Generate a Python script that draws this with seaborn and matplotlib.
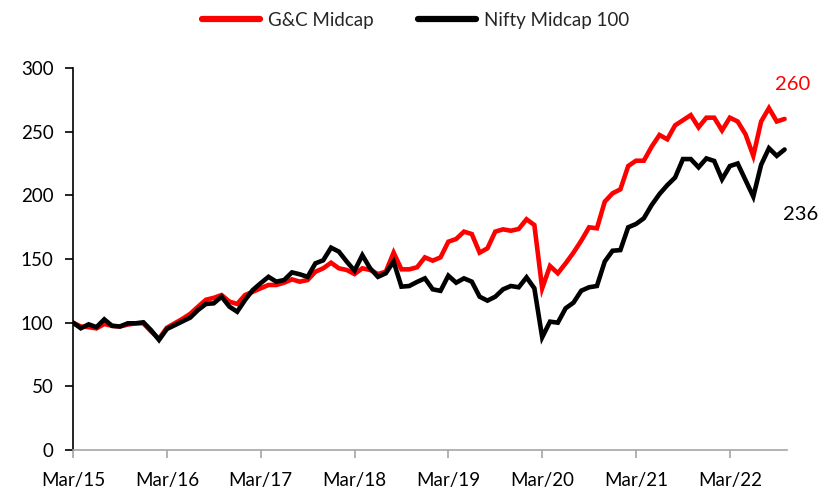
import numpy as np
import pandas as pd
import matplotlib
matplotlib.use("Agg")
import matplotlib.pyplot as plt
import seaborn as sns
from matplotlib.lines import Line2D

# Monthly index values, Mar/15 .. Oct/22 (base 100)
gc_midcap = [100, 97, 96.5, 95.5, 99, 97.5, 97, 98.5, 99.5, 99.5, 93, 87.5,
             96, 99.5, 103, 107, 112.6, 118, 119.5, 121.7, 116.5, 114.7, 121.7, 124.3,
             127, 129.6, 129.6, 131.4, 134, 132.2, 133.5, 140, 142.7, 147.1, 142.7, 141.4,
             138.2, 142.7, 141.4, 138.2, 140, 155, 141.9, 141.9, 143.5, 151.3, 148.7, 151.3,
             163.6, 165.7, 171.5, 169.6, 155, 158.4, 171.5, 173.3, 172.2, 173.6, 181.2, 176.7,
             127, 144.5, 138.8, 146.6, 155, 164.4, 174.9, 174.1, 195, 201.6, 204.7, 223,
             227.2, 227.2, 238.2, 247.4, 244, 255, 259, 263, 253.4, 261, 261, 251,
             261, 258, 248, 231, 258, 268.5, 258, 260]
nifty_midcap100 = [100, 95.6, 98.7, 96.5, 102.6, 97.5, 97, 99.5, 99.5, 100.3, 94, 86.4,
                   95, 98, 101, 104, 110, 114.7, 115.2, 120.4, 112.6, 108.6, 117.8, 125.7,
                   131, 136, 132.2, 133.5, 139.5, 138, 136, 146.6, 149, 158.9, 155.8, 148,
                   140.8, 153, 142.7, 136, 138.8, 148, 128.3, 128.8, 132, 134.8, 126.2, 125,
                   136.9, 131.4, 134.8, 132.2, 120.4, 117.3, 120.4, 126.2, 128.8, 127.8, 135.6, 127,
                   88.5, 100.8, 100, 111.3, 115.7, 125.1, 127.8, 128.8, 148, 156.5, 157, 174.9,
                   177.5, 182, 192.4, 201, 208, 214, 228.5, 228.5, 222, 229, 227, 212.6,
                   223, 225, 212, 199, 224, 237, 231, 236]
series_names = ["G&C Midcap", "Nifty Midcap 100"]
tick_labels = ["Mar/15", "Mar/16", "Mar/17", "Mar/18", "Mar/19", "Mar/20", "Mar/21", "Mar/22"]
end_labels = ["260", "236"]

colors = {"G&C Midcap": "#FF0000", "Nifty Midcap 100": "#000000"}

n = len(gc_midcap)
months = np.arange(n)
df = pd.DataFrame({
    "month": np.concatenate([months, months]),
    "value": gc_midcap + nifty_midcap100,
    "series": [series_names[0]] * n + [series_names[1]] * n,
})

sns.set_theme(style="white")
plt.rcParams["font.family"] = ["Lato", "DejaVu Sans"]

fig = plt.figure(figsize=(8.23, 4.95), dpi=100)
ax = fig.add_axes([0.0887, 0.0909, 0.867, 0.7717])

sns.lineplot(data=df, x="month", y="value", hue="series", palette=colors,
             linewidth=3.3, ax=ax, legend=False, solid_joinstyle="miter")

ax.set_xlim(0, n - 1 + 0.25)
ax.set_ylim(0, 300)
ax.set_yticks(np.arange(0, 301, 50))
ax.set_xticks(np.arange(0, len(tick_labels) * 12, 12))
ax.set_xticklabels(tick_labels)
ax.set_xlabel("")
ax.set_ylabel("")

for s in ["top", "right"]:
    ax.spines[s].set_visible(False)
ax.spines["left"].set_color("#000000")
ax.spines["left"].set_linewidth(1.2)
ax.spines["bottom"].set_color("#A6A6A6")
ax.spines["bottom"].set_linewidth(1.2)

ax.tick_params(axis="y", which="major", direction="out", length=6, width=1.2,
               color="#000000", labelsize=13.5, pad=8, labelcolor="#000000", left=True)
ax.tick_params(axis="x", which="major", direction="out", length=6, width=1.2,
               color="#A6A6A6", labelsize=13.5, pad=10, labelcolor="#000000", bottom=True)

# End-value labels
ax.text(n - 1 + 1.0, gc_midcap[-1] + 27, end_labels[0], color="#FF0000",
        fontsize=14.5, ha="center", va="center", clip_on=False)
ax.text(n - 1 + 2.0, nifty_midcap100[-1] - 51, end_labels[1], color="#000000",
        fontsize=14.5, ha="center", va="center", clip_on=False)

handles = [Line2D([0], [0], color=colors[s], lw=4.5, solid_capstyle="round") for s in series_names]
fig.legend(handles, series_names, loc="upper center", bbox_to_anchor=(0.505, 1.01),
           ncol=2, frameon=False, fontsize=13.5, handlelength=3.1, handletextpad=0.4,
           columnspacing=2.4)

fig.savefig("out.png", dpi=100, facecolor="white")
